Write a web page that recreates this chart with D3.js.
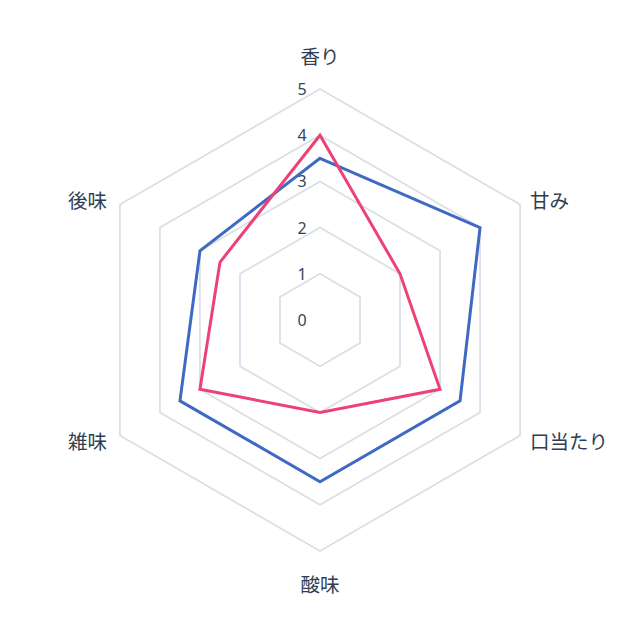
<!DOCTYPE html>
<html>
<head>
<meta charset="utf-8">
<script src="https://cdn.jsdelivr.net/npm/d3@7"></script>
<style>
  html, body { margin: 0; padding: 0; background: #fff; }
  svg { display: block; }
</style>
</head>
<body>
<svg id="chart" width="640" height="640"></svg>
<script>
// axes, clockwise from top
const axes = ["香り", "甘み", "口当たり", "酸味", "雑味", "後味"];
const tickValues = [0, 1, 2, 3, 4, 5];
const seriesBlue = [3.5, 4, 3.5, 3.5, 3.5, 3];
const seriesPink = [4, 2, 3, 2, 3, 2.5];
const series = [
    { name: "A", values: seriesBlue, color: "#3f69c2" },
    { name: "B", values: seriesPink, color: "#ec4276" }
];

const svg = d3.select("#chart");
const cx = 320, cy = 320, R = 231;

const r = d3.scaleLinear().domain([0, 5]).range([0, R]);
const angle = d3.scalePoint().domain(axes).range([0, 2 * Math.PI * (axes.length - 1) / axes.length]);

// angle 0 = up, going clockwise
const pt = (a, rad) => [cx + rad * Math.sin(a), cy - rad * Math.cos(a)];

const g = svg.append("g");

// grid hexagons (level 0 is just the centre, skip)
g.append("g").selectAll("polygon")
    .data(tickValues.filter(v => v > 0))
    .join("polygon")
    .attr("points", v => axes.map(ax => pt(angle(ax), r(v)).join(",")).join(" "))
    .attr("fill", "none")
    .attr("stroke", "#d9dee7")
    .attr("stroke-width", 1.7);

// series
const line = d3.line().curve(d3.curveLinearClosed);
g.append("g").selectAll("path")
    .data(series)
    .join("path")
    .attr("d", s => line(s.values.map((v, i) => pt(angle(axes[i]), r(v)))))
    .attr("fill", "none")
    .attr("stroke", s => s.color)
    .attr("stroke-width", 3)
    .attr("stroke-linejoin", "miter");

// tick labels, left of the vertical axis
g.append("g").selectAll("text")
    .data(tickValues)
    .join("text")
    .attr("x", cx - 18)
    .attr("y", v => cy - r(v))
    .attr("text-anchor", "middle")
    .attr("dominant-baseline", "central")
    .attr("font-family", "'Noto Sans', sans-serif")
    .attr("font-size", 16)
    .attr("fill", "#36455a")
    .text(v => v);

// axis labels
g.append("g").selectAll("text")
    .data(axes)
    .join("text")
    .each(function(ax) {
        const a = angle(ax);
        const s = Math.sin(a), c = Math.cos(a);
        const t = d3.select(this);
        if (Math.abs(s) < 0.01) {
            // top / bottom
            const y = c > 0 ? cy - R - 34 : cy + R + 32;
            t.attr("x", cx).attr("y", y).attr("text-anchor", "middle");
        } else {
            const [x, y] = pt(a, R + 15);
            t.attr("x", x + (s > 0 ? -3 : 0)).attr("y", y + (c > 0 ? 2 : -3))
             .attr("text-anchor", s > 0 ? "start" : "end");
        }
    })
    .attr("dominant-baseline", "central")
    .attr("font-family", "'Noto Sans CJK JP', sans-serif")
    .attr("font-size", 19.5)
    .attr("fill", "#2f3e52")
    .text(d => d);
</script>
</body>
</html>
